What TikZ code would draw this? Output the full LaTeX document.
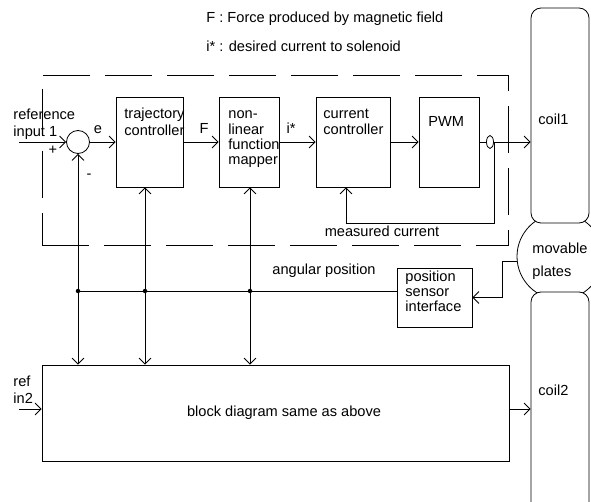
\documentclass[tikz,border=0pt]{standalone}
\usepackage{fontspec}
\setmainfont{Liberation Sans}
\usetikzlibrary{arrows.meta,shapes.geometric}
\newcommand\fs{\fontsize{14.6}{15}\selectfont}
\begin{document}
\begin{tikzpicture}[x=1pt,y=-1pt,line width=0.8pt,
  box/.style={draw,rectangle,inner sep=0pt},
  coil/.style={draw,rectangle,rounded corners=10pt,fill=white,inner sep=0pt,minimum width=58pt},
  arr/.style={-{Straight Barb[length=6pt,width=12pt,line width=0.8pt]}},
  lbl/.style={font=\fs,inner sep=0pt,text height=10.5pt,text depth=4.5pt},
  mlbl/.style={font=\fs,inner sep=0pt,align=left,anchor=north west},
  jdot/.style={circle,fill,inner sep=0pt,minimum size=4.5pt},
  frame/.style={draw,dash pattern=on 47pt off 15pt,rectangle,inner sep=0pt}]
\useasboundingbox (0,0) rectangle (591,502);

% header texts
\node[lbl,anchor=west] (h1) at (206,20) {F : Force produced by magnetic field};
\node[lbl,anchor=west] (h2) at (206,49) {i* : desired current to solenoid};

% dashed frame
\node[frame,minimum width=466pt,minimum height=170pt] (frm) at (275,160) {};

% blocks
\node[circle,draw,minimum size=23pt,inner sep=0pt] (sum) at (78,142) {};
\node[box,minimum width=67pt,minimum height=90pt] (traj) at (149.5,142) {};
\node[box,minimum width=60pt,minimum height=90pt] (nonlin) at (249,142) {};
\node[box,minimum width=74pt,minimum height=90pt] (curr) at (353,142) {};
\node[box,minimum width=60pt,minimum height=90pt] (pwm) at (449,142) {};
\node[box,minimum width=75pt,minimum height=59pt] (sensor) at (434.5,297.5) {};
\node[box,minimum width=467pt,minimum height=96pt] (lower) at (275.5,413) {};

% plates and coils
\node[circle,draw,minimum size=86pt,inner sep=0pt] (plates) at (560,256.5) {};
\node[coil,minimum height=215pt] (coil1) at (560,115.5) {};
\node[coil,minimum height=248pt] (coil2) at (560,416) {};

% block texts
\node[mlbl] (trajt) at (124,108) {\strut trajectory\\controller};
\node[mlbl] (nonlint) at (228,108) {\strut non-\\linear\\function\\mapper};
\node[mlbl] (currt) at (323,108) {\strut current\\controller};
\node[lbl,anchor=west] (pwmt) at (428,124) {PWM};
\node[mlbl] (sensort) at (405,271) {\strut position\\sensor\\interface};
\node[lbl] (lowert) at (284,413) {block diagram same as above};
\node[lbl,anchor=west] (coil1t) at (538,122) {coil1};
\node[lbl,anchor=west] (coil2t) at (538,392) {coil2};
\node[mlbl] (platest) at (532,243) {\strut movable\\[6pt]plates};

% signal labels
\node[mlbl] (ref1) at (13,109) {\strut reference\\input 1};
\node[lbl] (plus) at (53,152) {+};
\node[lbl] (minus) at (89,176) {-};
\node[lbl] (el) at (98,131) {e};
\node[lbl] (fl) at (204,131) {F};
\node[lbl] (il) at (291,131) {i*};
\node[lbl] (meas) at (382,234) {measured current};
\node[lbl] (ang) at (324,272) {angular position};
\node[mlbl] (ref2) at (13,376) {\strut ref\\in2};

% forward path
\coordinate (rin1) at (19,142);
\draw[arr] (rin1) -- (sum.west);
\draw[arr] (sum.east) -- (traj.west);
\draw[arr] (traj.east) -- (nonlin.west);
\draw[arr] (nonlin.east) -- (curr.west);
\draw[arr] (curr.east) -- (pwm.west);
\draw[arr] (pwm.east) -- (pwm.east -| coil1.west);
\node[ellipse,draw,fill=white,minimum width=7pt,minimum height=13pt,inner sep=0pt] (csens) at (490,142) {};

% current feedback
\coordinate (ctap) at (494,142);
\coordinate (mloop) at (346,223);
\draw[arr] (ctap) |- (mloop) -- (mloop |- curr.south);

% position bus
\coordinate (j1) at (78,291);
\coordinate (j2) at (145,291);
\coordinate (j3) at (250,291);
\draw (j1) -- (j1 -| sensor.west);
\draw[arr] (j1) -- (sum.south);
\draw[arr] (j2) -- (j2 |- traj.south);
\draw[arr] (j3) -- (j3 |- nonlin.south);
\draw[arr] (j1) -- (j1 |- lower.north);
\draw[arr] (j2) -- (j2 |- lower.north);
\draw[arr] (j3) -- (j3 |- lower.north);
\node[jdot] (d1) at (j1) {};
\node[jdot] (d2) at (j2) {};
\node[jdot] (d3) at (j3) {};

% plates to sensor
\coordinate (pk) at (502,261);
\draw[arr] (plates.186) -- (plates.186 -| pk) |- (sensor.east);

% lower block in/out
\coordinate (rin2) at (19,409);
\draw[arr] (rin2) -- (rin2 -| lower.west);
\draw[arr] (rin2 -| lower.east) -- (rin2 -| coil2.west);
\end{tikzpicture}
\end{document}
